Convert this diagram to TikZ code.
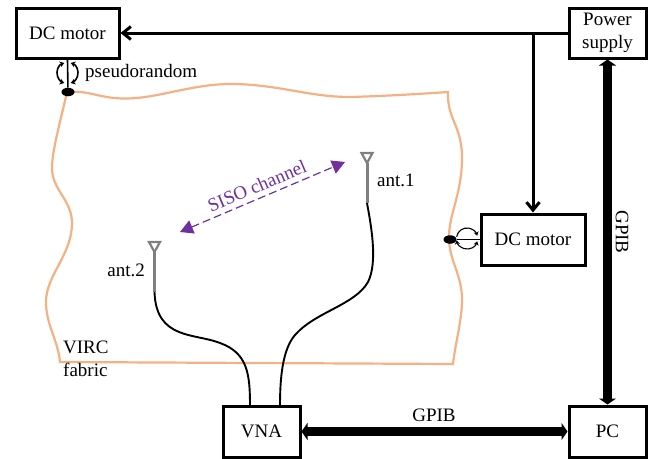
\documentclass[tikz,border=0pt]{standalone}
\usepackage{fontspec}
\setmainfont{Liberation Serif}
\usetikzlibrary{arrows.meta,calc,shapes.geometric}
\definecolor{fabriccol}{HTML}{F4B183}
\definecolor{sisocol}{HTML}{7030A0}
\definecolor{antcol}{HTML}{7F7F7F}
\tikzset{
  x=1pt,y=-1pt,
  txt/.style={font=\fontsize{19}{23}\selectfont,inner sep=0pt,align=center},
  devbox/.style={draw=black,line width=3pt,fill=white,minimum width=#1,inner sep=0pt,txt},
  feed/.style={draw=black,line width=3pt,-{Straight Barb[length=8pt,width=13pt,line width=3pt]}},
  bus/.style={draw=black,line width=8.5pt,{Triangle[length=6pt,width=17pt]}-{Triangle[length=6pt,width=17pt]}},
  fabric/.style={draw=fabriccol,line width=2.2pt},
  cable/.style={draw=black,line width=1.9pt},
  ant/.style={draw=antcol,line width=3pt},
  rotor/.style={draw=black,line width=1.6pt},
  spin/.style={draw=black,line width=1.6pt,{Stealth[length=4.5pt,width=6pt]}-{Stealth[length=4.5pt,width=6pt]}},
  spinb/.style={draw=black,line width=1.1pt,{Stealth[length=4pt,width=5pt]}-{Stealth[length=4pt,width=5pt]}},
  spinc/.style={draw=black,line width=1.1pt,-{Stealth[length=4pt,width=5pt]}},
  siso/.style={draw=sisocol,line width=1.2pt,dash pattern=on 8pt off 4pt,{Triangle[length=13pt,width=14pt]}-{Triangle[length=13pt,width=14pt]}},
  pivot/.style={ellipse,fill=black,inner sep=0pt,minimum width=13pt,minimum height=8.5pt}
}
\begin{document}
\begin{tikzpicture}
\useasboundingbox (0,0) rectangle (655,458);
% fabric
\draw[fabric] (68,92) .. controls (90,90) and (100,99) .. (127,98.5)
  .. controls (160,98) and (195,83) .. (235,84)
  .. controls (280,85) and (310,97) .. (350,97)
  .. controls (385,96) and (420,94) .. (448,92)
  .. controls (447,120) and (462,125) .. (462,158)
  .. controls (462,195) and (448,215) .. (449,240)
  .. controls (450,262) and (462,275) .. (462,300)
  .. controls (462,320) and (455,345) .. (453,364)
  -- (60,362)
  .. controls (58,340) and (46,325) .. (46,302)
  .. controls (46,275) and (72,255) .. (72,223)
  .. controls (72,200) and (52,190) .. (52,168)
  .. controls (52,150) and (62,115) .. (67,92);
% boxes
\node[devbox=103pt,minimum height=50pt] (dc1) at (67.5,33) {DC motor};
\node[devbox=77pt,minimum height=50pt] (psu) at (607.5,33) {Power\\supply};
\node[devbox=104pt,minimum height=51pt] (dc2) at (533,239.5) {DC motor};
\node[devbox=77pt,minimum height=51pt] (vna) at (261.5,431.5) {VNA};
\node[devbox=77pt,minimum height=51pt] (pc) at (607.5,431.5) {PC};
% feeds
\coordinate (branch) at (533,33);
\draw[feed] (psu.west) -- (dc1.east);
\draw[feed] (branch) -- (dc2.north);
\draw[bus] (psu.south) -- (pc.north);
\draw[bus] (vna.east) -- (pc.west);
\node[txt] (g1) at (434,415) {GPIB};
\node[txt,rotate=-90] (g2) at (622,232) {GPIB};
% rotors
\node[pivot] (p1) at (68,92) {};
\node[pivot] (p2) at (450,239.5) {};
\draw[rotor] (dc1.south) -- (p1);
\draw[rotor] (dc2.west) -- (p2);
\coordinate (c1) at (67.5,73);
\coordinate (c2) at (467,238.5);
\begin{scope}[shift={(c1)},x=1pt,y=1pt]
  \draw[spin] (72:10.5) arc[start angle=72,end angle=-72,radius=10.5pt];
  \draw[spin] (108:10.5) arc[start angle=108,end angle=252,radius=10.5pt];
\end{scope}
\begin{scope}[shift={(c2)},x=1pt,y=1pt]
  \draw[spinc] (170:10.5) arc[start angle=170,end angle=15,radius=10.5pt];
  \draw[spinb] (-15:10.5) arc[start angle=-15,end angle=-170,radius=10.5pt];
\end{scope}
\node[txt,anchor=west] (pr) at (85,73) {pseudorandom};
% antennas
\coordinate (a1top) at (367,153);
\coordinate (a1apex) at (367,163);
\coordinate (a1foot) at (367,203);
\coordinate (a2top) at (154.5,242);
\coordinate (a2apex) at (154.5,252);
\coordinate (a2foot) at (154.5,292);
\draw[ant,line width=2.2pt] ($(a1top)+(-5.5,0)$) -- ($(a1top)+(5.5,0)$) -- (a1apex) -- cycle;
\draw[ant] (a1apex) -- (a1foot);
\draw[ant,line width=2.2pt] ($(a2top)+(-5.5,0)$) -- ($(a2top)+(5.5,0)$) -- (a2apex) -- cycle;
\draw[ant] (a2apex) -- (a2foot);
\node[txt,anchor=west] (l1) at (377,180) {ant.1};
\node[txt,anchor=east] (l2) at (145,270) {ant.2};
% cables
\coordinate (v1) at (250,406);
\coordinate (v2) at (280,406);
\draw[cable] (a1foot) .. controls (371,225) and (378,262) .. (368,282)
  .. controls (355,305) and (315,312) .. (295,335)
  .. controls (282,350) and (280,380) .. (v2);
\draw[cable] (a2foot) .. controls (156,340) and (195,333) .. (220,343)
  .. controls (248,353) and (250,375) .. (v1);
% channel
\coordinate (s1) at (345,162);
\coordinate (s2) at (180,232);
\draw[siso] (s2) -- (s1);
\node[txt,text=sisocol,rotate=23] (sl) at (257,186) {SISO channel};
\node[txt,align=left,anchor=north west] (virc) at (63,341) {VIRC\\fabric};
\end{tikzpicture}
\end{document}
